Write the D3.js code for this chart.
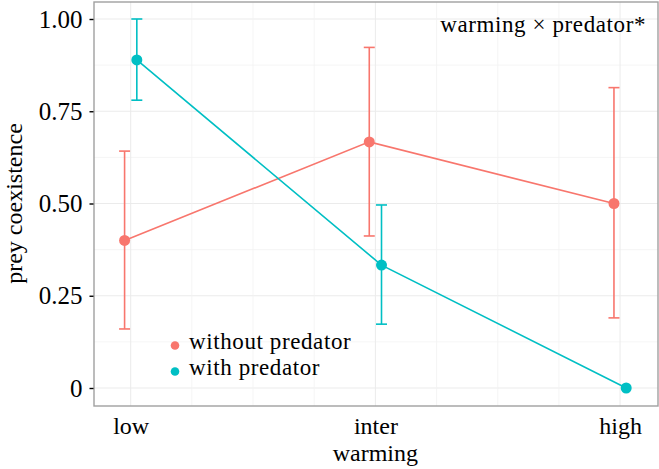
<!DOCTYPE html>
<html><head><meta charset="utf-8">
<script src="https://cdn.jsdelivr.net/npm/d3@7"></script>
<style>body{margin:0;background:#fff}svg{display:block}svg text{font-family:'Liberation Serif','Times New Roman',Times,'DejaVu Serif',serif !important;fill:#000}</style>
</head><body><svg id="c" width="659" height="469"></svg>
<script>
const categories = ["low", "inter", "high"];
const groups = ["without predator", "with predator"];
const colors = ["#F8766D", "#00BFC4"];
const withoutMean = [0.40, 0.667, 0.50];
const withoutLow = [0.16, 0.412, 0.19];
const withoutHigh = [0.642, 0.923, 0.814];
const withMean = [0.889, 0.333, 0.0];
const withLow = [0.78, 0.173, 0.0];
const withHigh = [1.0, 0.496, 0.0];
const yTicks = [0, 0.25, 0.5, 0.75, 1.0];
const yTickLabels = ["0", "0.25", "0.50", "0.75", "1.00"];
const annotation = "warming × predator*";

const FONT = "'Liberation Serif', 'Times New Roman', serif";
const panel = {l: 94, r: 658, t: 2, b: 406};
const svg = d3.select("#c");

const x = d3.scaleLinear().domain([0.85, 3.155]).range([panel.l, panel.r]);
const catPos = d3.scaleOrdinal().domain(categories).range([1, 2, 3]);
const y = d3.scaleLinear().domain([0, 1]).range([388, 19]);
const dodge = [-0.025, 0.025];

// grid
const g = svg.append("g");
const minorY = d3.range(0.125, 1.01, 0.25);
g.selectAll(".gy").data(minorY).join("line").attr("x1", panel.l).attr("x2", panel.r)
  .attr("y1", d => y(d)).attr("y2", d => y(d)).attr("stroke", "#f2f2f2").attr("stroke-width", 0.8);
g.selectAll(".gY").data(yTicks).join("line").attr("x1", panel.l).attr("x2", panel.r)
  .attr("y1", d => y(d)).attr("y2", d => y(d)).attr("stroke", "#ebebeb").attr("stroke-width", 1);
const xgrid = d3.range(1, 3.01, 0.25);
g.selectAll(".gx").data(xgrid).join("line").attr("y1", panel.t).attr("y2", panel.b)
  .attr("x1", d => x(d)).attr("x2", d => x(d))
  .attr("stroke", d => Number.isInteger(d) ? "#ebebeb" : "#f2f2f2").attr("stroke-width", d => Number.isInteger(d) ? 1 : 0.8);

const series = [
  {name: groups[0], color: colors[0], mean: withoutMean, lo: withoutLow, hi: withoutHigh, dx: dodge[0]},
  {name: groups[1], color: colors[1], mean: withMean, lo: withLow, hi: withHigh, dx: dodge[1]}
];

series.forEach(s => {
  const pts = categories.map((c, i) => ({cx: x(catPos(c) + s.dx), m: s.mean[i], lo: s.lo[i], hi: s.hi[i]}));
  const line = d3.line().x(d => d.cx).y(d => y(d.m));
  svg.append("path").datum(pts).attr("d", line).attr("fill", "none").attr("stroke", s.color).attr("stroke-width", 1.6);
  const eb = svg.append("g").attr("stroke", s.color).attr("stroke-width", 1.6);
  pts.filter(d => d.hi > d.lo).forEach(d => {
    eb.append("line").attr("x1", d.cx).attr("x2", d.cx).attr("y1", y(d.lo)).attr("y2", y(d.hi));
    eb.append("line").attr("x1", d.cx - 5.5).attr("x2", d.cx + 5.5).attr("y1", y(d.lo)).attr("y2", y(d.lo));
    eb.append("line").attr("x1", d.cx - 5.5).attr("x2", d.cx + 5.5).attr("y1", y(d.hi)).attr("y2", y(d.hi));
  });
  svg.append("g").selectAll("circle").data(pts).join("circle")
    .attr("cx", d => d.cx).attr("cy", d => y(d.m)).attr("r", 5.5).attr("fill", s.color);
});

// panel border
svg.append("rect").attr("x", panel.l).attr("y", panel.t).attr("width", panel.r - panel.l).attr("height", panel.b - panel.t)
  .attr("fill", "none").attr("stroke", "#a0a0a0").attr("stroke-width", 1.4);

// y axis
const yAxis = d3.axisLeft(y).tickValues(yTicks).tickFormat((d, i) => yTickLabels[i]).tickSize(4).tickPadding(7);
const ya = svg.append("g").attr("transform", `translate(${panel.l - 0.5},0)`).call(yAxis).attr("font-family", FONT);
ya.select(".domain").remove();
ya.selectAll("line").attr("stroke", "#000").attr("stroke-width", 1.4);
ya.selectAll("text").attr("font-size", 25).attr("fill", "#000");

// x axis labels
const xa = d3.axisBottom(d3.scalePoint().domain(categories).range([x(1), x(3)])).tickSize(0).tickPadding(11);
const xg = svg.append("g").attr("transform", `translate(0,${panel.b})`).call(xa).attr("font-family", FONT);
xg.select(".domain").remove();
xg.selectAll("text").attr("font-size", 24).attr("fill", "#000");

// axis titles
svg.append("text").attr("x", x(2)).attr("y", 461).attr("text-anchor", "middle").attr("font-size", 24).attr("font-family", FONT).text("warming");
svg.append("text").attr("transform", `translate(22,${(y(0) + y(1)) / 2}) rotate(-90)`).attr("text-anchor", "middle").attr("font-size", 24).attr("font-family", FONT).text("prey coexistence");

// annotation
svg.append("text").attr("x", 646).attr("y", 32).attr("text-anchor", "end").attr("font-size", 23).attr("letter-spacing", 0.6).attr("font-family", FONT).text(annotation);

// legend
const lg = svg.append("g");
series.forEach((s, i) => {
  lg.append("circle").attr("cx", 175).attr("cy", 345.5 + i * 26).attr("r", 4.3).attr("fill", s.color);
  lg.append("text").attr("x", 189).attr("y", 349 + i * 26).attr("font-size", 23).attr("letter-spacing", 0.6).attr("font-family", FONT).text(s.name);
});
</script></body></html>
